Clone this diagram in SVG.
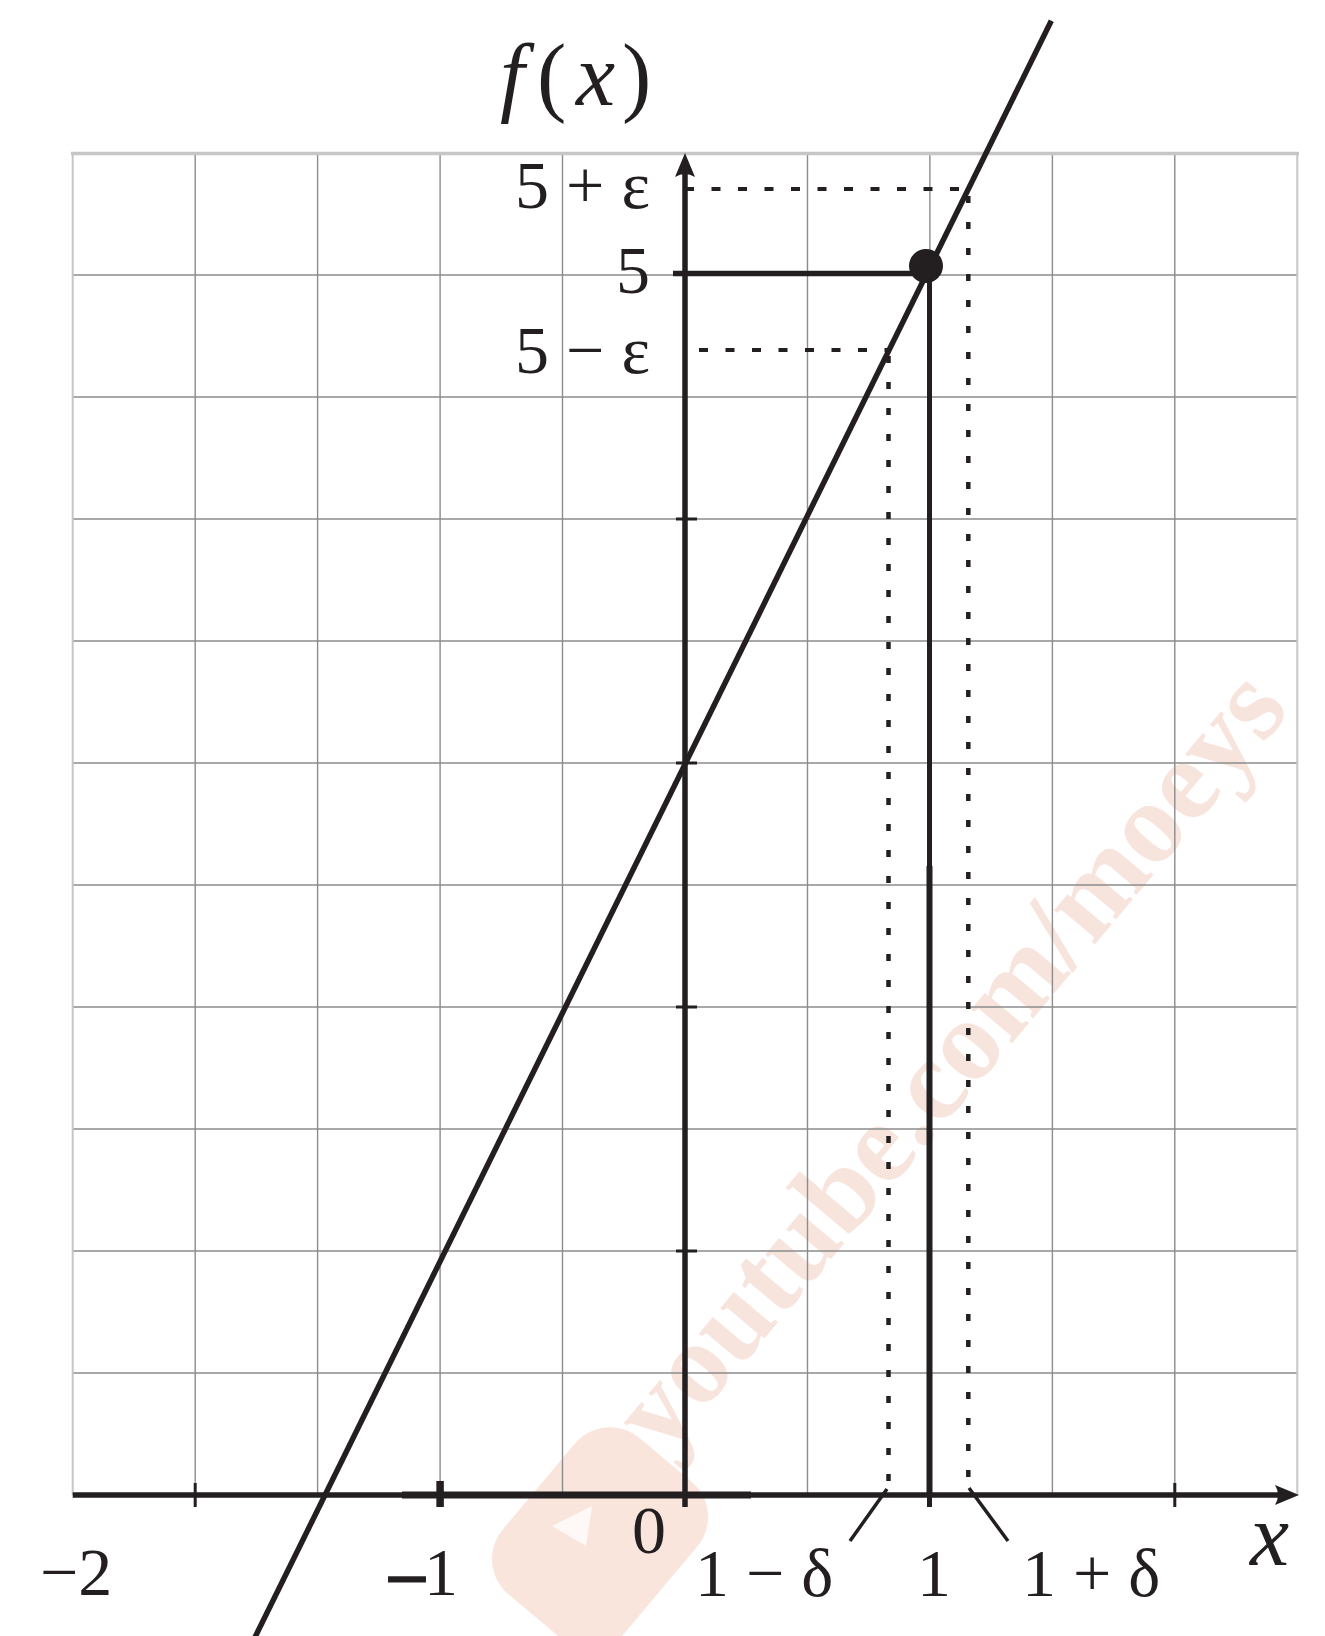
<svg xmlns="http://www.w3.org/2000/svg" width="1325" height="1636" viewBox="0 0 1325 1636">
<style>
.g{stroke:#8c8c8c;stroke-width:1.4;fill:none}
.gb{stroke:#c6c6c6;fill:none}
.k{stroke:#231f20;fill:none;stroke-linecap:butt}
.dh{stroke:#231f20;stroke-width:4;stroke-dasharray:9 17.5;fill:none}
.dv{stroke:#231f20;stroke-width:4.5;stroke-dasharray:7 19;fill:none}
.t{font-family:"Liberation Serif","Times New Roman",serif;font-size:68px;fill:#231f20}
.i{font-family:"Liberation Serif","Times New Roman",serif;font-size:88px;font-style:italic;fill:#231f20}
.wm{font-family:"Liberation Serif","Times New Roman",serif;font-weight:bold;font-size:116px;fill:#eebfae;opacity:0.42}
</style>
<rect width="1325" height="1636" fill="#ffffff"/>
<g id="watermark">
<g transform="translate(600,1538) rotate(-50)">
<rect x="-102" y="-80" width="204" height="160" rx="46" fill="#f6d4c6" opacity="0.6"/>
</g>
<polygon points="552,1526 592,1506 586,1546" fill="#ffffff" opacity="0.75"/>
<text class="wm" transform="translate(664,1458) rotate(-50)">youtube.com/moeys</text>
</g>
<g id="grid">
<path class="g" d="M195.2,153V1495M317.6,153V1495M440.1,153V1495M562.5,153V1495M807.5,153V1495M929.9,153V1495M1052.4,153V1495M1174.8,153V1495"/>
<path class="g" d="M72.7,1373H1297.3M72.7,1251H1297.3M72.7,1129H1297.3M72.7,1007H1297.3M72.7,885H1297.3M72.7,763H1297.3M72.7,641H1297.3M72.7,519H1297.3M72.7,397H1297.3M72.7,275H1297.3"/>
<path class="gb" stroke-width="3.5" d="M71,153.5H1299"/>
<path class="gb" stroke-width="2" d="M72.7,153V1495M1297.3,153V1495"/>
</g>
<g id="axes">
<path class="k" stroke-width="5.5" d="M72.7,1495H1282"/>
<path class="k" stroke-width="7" d="M402,1495H751"/>
<path d="M1299,1495L1275,1485Q1281,1495 1275,1505Z" fill="#231f20"/>
<path class="k" stroke-width="5.5" d="M685,1507V172"/>
<path d="M685,153L675,177Q685,171 695,177Z" fill="#231f20"/>
<path class="k" stroke-width="3" d="M195.2,1483V1507M1174.8,1483V1507M676,1251H697M676,1007H697M676,763H697M676,519H697"/>
<path class="k" stroke-width="7.5" d="M440.1,1481V1507"/>
</g>
<g id="guides">
<path class="k" stroke-width="5.5" d="M673,273.5H926"/>
<path class="k" stroke-width="5" d="M929.5,273V1507"/>
<path class="k" stroke-width="6" d="M929.5,866V1495"/>
<path class="dh" d="M685,189H968"/>
<path class="dh" d="M699,350H889"/>
<path class="dv" d="M888.5,356V1490"/>
<path class="dv" d="M968.3,196V1490"/>
<path class="k" stroke-width="3.5" d="M887,1489L850,1541M969,1488L1008,1541"/>
</g>
<g id="curve">
<path class="k" stroke-width="5.5" d="M253.6,1640L1051.3,20.7"/>
<circle cx="926" cy="266" r="17" fill="#231f20"/>
</g>
<g id="labels">
<text class="i" y="105"><tspan x="500">f</tspan><tspan x="537" font-style="normal">(</tspan><tspan x="576">x</tspan><tspan x="622" font-style="normal">)</tspan></text>
<text class="t" x="650" y="208" text-anchor="end">5 + ε</text>
<text class="t" x="650" y="293" text-anchor="end">5</text>
<text class="t" x="650" y="373" text-anchor="end">5 − ε</text>
<text class="t" x="632" y="1553">0</text>
<text class="t" x="40" y="1595">−2</text>
<text class="t" x="390" y="1595"><tspan stroke="#231f20" stroke-width="3">–</tspan>1</text>
<text class="t" x="695" y="1596">1 − δ</text>
<text class="t" x="934" y="1596" text-anchor="middle">1</text>
<text class="t" x="1022" y="1596">1 + δ</text>
<text class="i" x="1250" y="1565">x</text>
</g>
</svg>
